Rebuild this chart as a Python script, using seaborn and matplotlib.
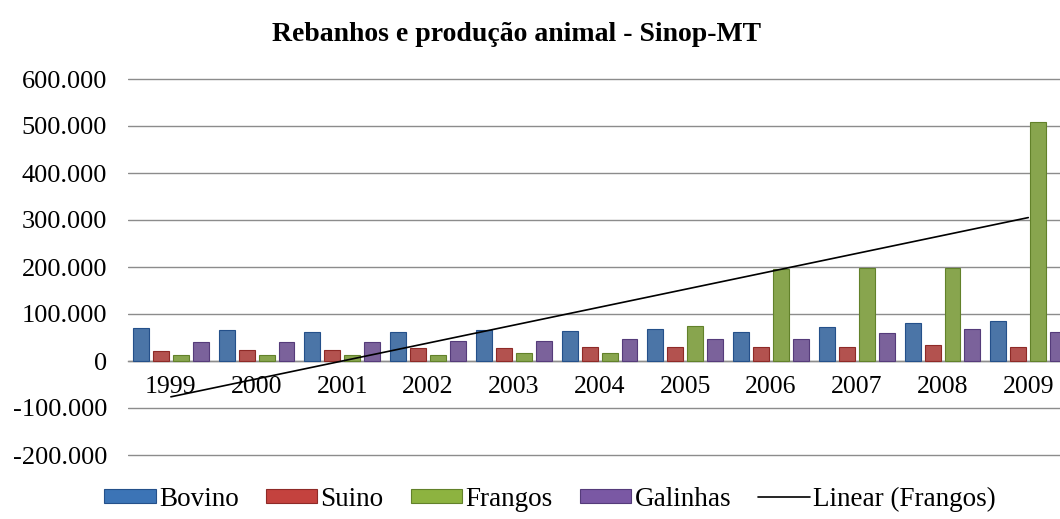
import numpy as np
import pandas as pd
import matplotlib
matplotlib.use("Agg")
import matplotlib.pyplot as plt
import seaborn as sns
from matplotlib.ticker import FuncFormatter, FixedLocator
from matplotlib.lines import Line2D
from matplotlib.patches import Patch

years = ["1999", "2000", "2001", "2002", "2003", "2004", "2005", "2006", "2007", "2008", "2009"]
bovino = [70000, 66000, 62000, 61000, 66000, 64000, 68000, 62000, 72000, 81000, 85000]
suino = [21000, 23000, 23000, 27000, 27000, 30000, 30000, 30000, 30000, 34000, 30000]
frangos = [13000, 13000, 13000, 13000, 16000, 16000, 75000, 196000, 198000, 198000, 508000]
galinhas = [40000, 40000, 40000, 43000, 43000, 46000, 46000, 46000, 60000, 68000, 62000]
series_names = ["Bovino", "Suino", "Frangos", "Galinhas"]
y_ticks = [-200000, -100000, 0, 100000, 200000, 300000, 400000, 500000, 600000]
colors = ["#3C74B6", "#C4423E", "#8DB340", "#7A58A4"]
edge_colors = ["#24508A", "#8E2A27", "#62812A", "#553B7A"]

df = pd.DataFrame({
    "Ano": years * 4,
    "Serie": sum([[n] * len(years) for n in series_names], []),
    "Valor": bovino + suino + frangos + galinhas,
})

sns.set_theme(style="white")
plt.rcParams["font.family"] = ["Liberation Serif", "DejaVu Serif"]
plt.rcParams["text.color"] = "black"

fig = plt.figure(figsize=(10.6, 5.19), dpi=100)
ylo, yhi = -204000, 604000
ppu = (455 - 79) / 800000.0
top_px = 79 - (yhi - 600000) * ppu
bot_px = 455 + (-200000 - ylo) * ppu
ax = fig.add_axes([128 / 1060, 1 - bot_px / 519, 1 - 128 / 1060, (bot_px - top_px) / 519])

sns.barplot(data=df, x="Ano", y="Valor", hue="Serie", hue_order=series_names,
            palette=colors, width=0.93, gap=0.2, ax=ax, legend=False, zorder=3)
for cont, ec in zip(ax.containers, edge_colors):
    for p in cont:
        p.set_edgecolor(ec)
        p.set_linewidth(0.8)

# linear trend of Frangos
xs = np.arange(len(years))
coef = np.polyfit(xs, frangos, 1)
ax.plot(xs, np.polyval(coef, xs), color="black", lw=1.2, zorder=4)

ax.set_xlim(-0.5, 10.37)
ax.set_ylim(ylo, yhi)
ax.yaxis.set_major_locator(FixedLocator(y_ticks))
ax.yaxis.set_major_formatter(FuncFormatter(lambda v, p: f"{int(round(v)):,}".replace(",", ".")))
ax.grid(axis="y", color="#8c8c8c", lw=1.0, zorder=0)
ax.grid(axis="x", visible=False)
for s in ["left", "right", "top"]:
    ax.spines[s].set_visible(False)
ax.spines["bottom"].set_position(("data", 0))
ax.spines["bottom"].set_color("#8c8c8c")
ax.spines["bottom"].set_linewidth(1.0)
ax.tick_params(axis="x", length=0, pad=11, labelsize=18.5, colors="black")
ax.tick_params(axis="y", length=0, pad=15, labelsize=19, colors="black")
ax.set_xlabel("")
ax.set_ylabel("")

fig.text(0.487, 0.933, "Rebanhos e produção animal - Sinop-MT", ha="center", va="center",
         fontsize=20, fontweight="bold", color="black")

handles = [Patch(facecolor=c, edgecolor=ec, lw=0.8) for c, ec in zip(colors, edge_colors)]
handles.append(Line2D([0], [0], color="black", lw=1.2))
labels = series_names + ["Linear (Frangos)"]
leg = fig.legend(handles, labels, loc="center", bbox_to_anchor=(550 / 1060, 1 - 499 / 519), ncol=5,
                 frameon=False, fontsize=19.5, handlelength=1.9, handleheight=0.42,
                 handletextpad=0.12, columnspacing=1.0, borderaxespad=0)
for t in leg.get_texts():
    t.set_color("black")

fig.savefig("out.png", dpi=100)
